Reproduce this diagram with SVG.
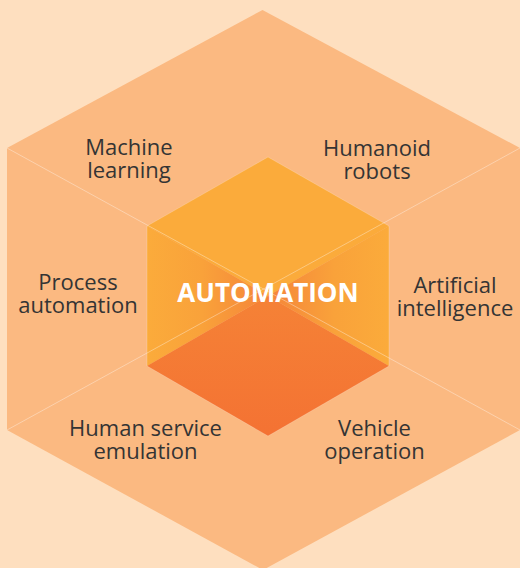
<svg xmlns="http://www.w3.org/2000/svg" width="520" height="568" viewBox="0 0 520 568">
<defs>
<style>
.lbl{font-family:"Open Sans","Liberation Sans",sans-serif;font-size:22px;fill:#343434;text-anchor:middle}
.title{font-family:"Open Sans","Liberation Sans",sans-serif;font-size:26px;font-weight:bold;fill:#ffffff;text-anchor:middle}
.guide{stroke:#ffffff;stroke-opacity:0.35;stroke-width:1;fill:none}
</style>
<linearGradient id="gLeft" x1="147" y1="0" x2="268" y2="0" gradientUnits="userSpaceOnUse">
<stop offset="0" stop-color="#FBAB3B"/>
<stop offset="0.45" stop-color="#F9A23A"/>
<stop offset="1" stop-color="#F5853A"/>
</linearGradient>
<linearGradient id="gRight" x1="389" y1="0" x2="268" y2="0" gradientUnits="userSpaceOnUse">
<stop offset="0" stop-color="#FBAB3B"/>
<stop offset="0.45" stop-color="#F9A23A"/>
<stop offset="1" stop-color="#F5853A"/>
</linearGradient>
<linearGradient id="gBottom" x1="0" y1="296" x2="0" y2="436" gradientUnits="userSpaceOnUse">
<stop offset="0" stop-color="#F58236"/>
<stop offset="1" stop-color="#F47233"/>
</linearGradient>
</defs>
<rect width="520" height="568" fill="#FEDFBF"/>
<g id="outer-hexagon">
<polygon points="262.5,10 520,148 520,430 263,570 7,430 7,148" fill="#FBB981"/>
</g>
<g id="cube">
<polygon points="268,157 389,226 268,296 147,226" fill="#FBAB3B"/>
<polygon points="147,226 268,296 147,366" fill="url(#gLeft)"/>
<polygon points="389,226 268,296 389,366" fill="url(#gRight)"/>
<polygon points="268,296 389,366 268,436 147,366" fill="url(#gBottom)"/>
<polygon points="268,157 389,226 389,366 268,436 147,366 147,226" fill="none" stroke="#ffffff" stroke-opacity="0.2" stroke-width="1"/>
</g>
<g id="connectors">
<line class="guide" x1="7" y1="148" x2="520" y2="430"/>
<line class="guide" x1="520" y1="148" x2="7" y2="430"/>
</g>
<g id="node-center">
<text class="title" x="268" y="302">AUTOMATION</text>
</g>
<g id="node-machine-learning">
<text class="lbl" x="129" y="155">Machine</text>
<text class="lbl" x="129" y="178">learning</text>
</g>
<g id="node-humanoid-robots">
<text class="lbl" x="377" y="156">Humanoid</text>
<text class="lbl" x="377" y="179">robots</text>
</g>
<g id="node-process-automation">
<text class="lbl" x="78" y="290">Process</text>
<text class="lbl" x="78" y="313">automation</text>
</g>
<g id="node-artificial-intelligence">
<text class="lbl" x="455" y="293">Artificial</text>
<text class="lbl" x="455" y="316">intelligence</text>
</g>
<g id="node-human-service-emulation">
<text class="lbl" x="145.5" y="436">Human service</text>
<text class="lbl" x="145.5" y="459">emulation</text>
</g>
<g id="node-vehicle-operation">
<text class="lbl" x="374.5" y="436">Vehicle</text>
<text class="lbl" x="374.5" y="459">operation</text>
</g>
</svg>
